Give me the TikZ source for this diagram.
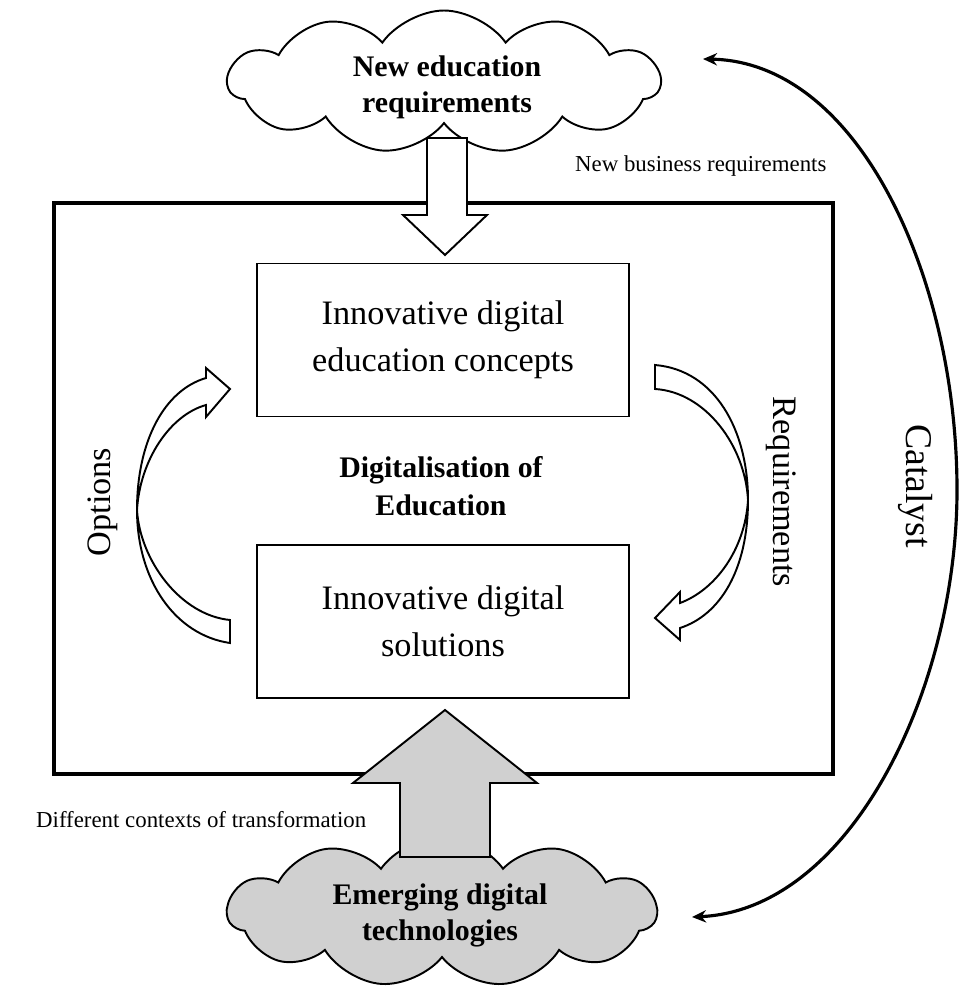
\documentclass[tikz,border=0pt]{standalone}
\usepackage{fontspec}
\setmainfont{Liberation Serif}
\usetikzlibrary{shapes.symbols,arrows.meta}
\definecolor{cloudgray}{RGB}{208,208,208}
\begin{document}
\begin{tikzpicture}[x=0.02cm,y=-0.02cm,
  box/.style={draw,line width=1.1pt,minimum width=7.44cm,minimum height=3.06cm,align=center,outer sep=0pt,font=\fontsize{19.5}{27}\selectfont},
  cloudnode/.style={cloud,draw,line width=1.1pt,cloud puffs=11,cloud puff arc=110,cloud ignores aspect,inner sep=0pt},
  cloudtext/.style={align=center,font=\bfseries\fontsize{17}{20.5}\selectfont},
  blockarrow/.style={draw,line width=1.1pt,line join=miter},
  curvearrow/.style={draw,line width=1.1pt,fill=white,line join=miter},
  small/.style={font=\fontsize{13}{15}\selectfont},
  vlabel/.style={font=\fontsize{19.5}{22}\selectfont},
  catarrow/.style={line width=1.8pt,{Stealth[length=8pt,width=7pt]}-{Stealth[length=8pt,width=7pt]}}
]
\useasboundingbox (0,0) rectangle (960,986);

% frame
\node[draw,line width=2.3pt,minimum width=15.58cm,minimum height=11.42cm,outer sep=0pt] (frame) at (443.5,488.5) {};

% boxes
\node[box] (concepts) at (443,340) {Innovative digital\\education concepts};
\node[box] (solutions) at (443,621.5) {Innovative digital\\solutions};

% center label
\node[align=center,font=\bfseries\fontsize{17}{21.5}\selectfont] (center) at (441,486) {Digitalisation of\\Education};

% clouds
\node[cloudnode,fill=white,minimum width=8.64cm,minimum height=2.86cm] (topcloud) at (444,82) {};
\node[cloudtext] (toptext) at (447,87) {New education\\requirements};
\node[cloudnode,fill=cloudgray,minimum width=8.58cm,minimum height=3.0cm] (botcloud) at (442,912) {};
\node[cloudtext] (bottext) at (440,915) {Emerging digital\\technologies};

% block arrows
\draw[blockarrow,fill=white] (427,138) -- (467,138) -- (467,215) -- (487,215) -- (445,255) -- (403,215) -- (427,215) -- cycle;
\draw[blockarrow,fill=cloudgray] (400,857) -- (400,783) -- (353,783) -- (445,710) -- (537,783) -- (490,783) -- (490,857) -- cycle;

% curved arrows
\draw[curvearrow] (230,643) .. controls (175,635) and (137,580) .. (137,510)
  .. controls (137,440) and (165,390) .. (206,378) -- (206,368) -- (230,389) -- (206,417) -- (206,405)
  .. controls (170,415) and (140,460) .. (137,510)
  .. controls (140,560) and (180,615) .. (230,620) -- cycle;
\draw[curvearrow] (655,365) .. controls (715,370) and (748,430) .. (748,500)
  .. controls (748,570) and (720,615) .. (680,628) -- (680,640) -- (655,618) -- (680,592) -- (680,603)
  .. controls (715,590) and (745,550) .. (748,500)
  .. controls (745,445) and (705,392) .. (655,389) -- cycle;

% catalyst arrow
\coordinate (catA) at (703,59);
\coordinate (catB) at (692,917);
\draw[catarrow] (catA) .. controls (860,62) and (957,280) .. (957,490)
  .. controls (957,690) and (850,910) .. (catB);

% labels
\node[small,anchor=west] (nbr) at (569,166) {New business requirements};
\node[small,anchor=west] (dct) at (30,820) {Different contexts of transformation};
\node[vlabel,rotate=90] (opt) at (103,502) {Options};
\node[vlabel,rotate=-90] (req) at (781,492) {Requirements};
\node[font=\fontsize{21.5}{24}\selectfont,rotate=-90] (cat) at (916,486) {Catalyst};
\end{tikzpicture}
\end{document}
